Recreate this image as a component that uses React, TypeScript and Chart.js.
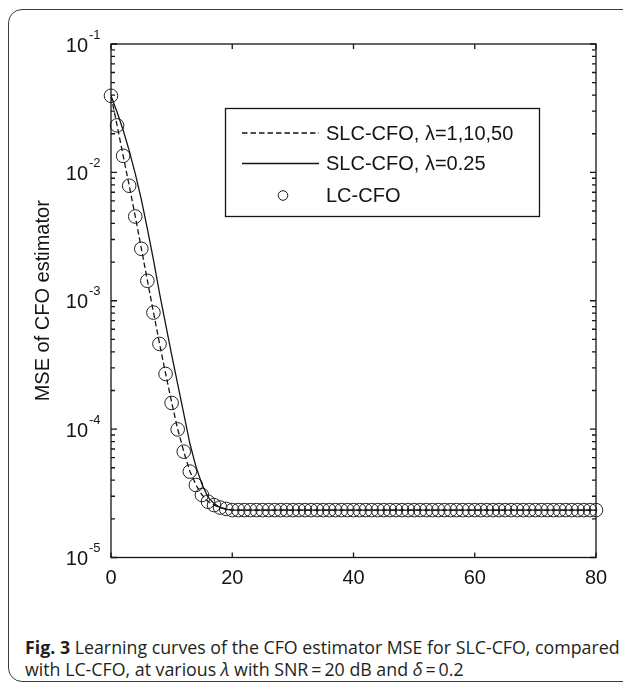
import React, { useEffect, useRef } from 'react';
import { Chart, registerables } from 'chart.js';

Chart.register(...registerables);

// ---------- data ----------
const iterations = [
  0, 1, 2, 3, 4, 5, 6, 7, 8, 9, 10, 11, 12, 13, 14, 15, 16, 17, 18, 19, 20,
  21, 22, 23, 24, 25, 26, 27, 28, 29, 30, 31, 32, 33, 34, 35, 36, 37, 38, 39, 40,
  41, 42, 43, 44, 45, 46, 47, 48, 49, 50, 51, 52, 53, 54, 55, 56, 57, 58, 59, 60,
  61, 62, 63, 64, 65, 66, 67, 68, 69, 70, 71, 72, 73, 74, 75, 76, 77, 78, 79, 80,
];

// LC-CFO (circles)
const lcCfo = [
  0.0395, 0.02323, 0.01346, 0.00787, 0.00453, 0.00254, 0.00143, 0.000809, 0.000461, 0.000269,
  0.00016, 9.95e-5, 6.68e-5, 4.67e-5, 3.67e-5, 3.07e-5, 2.72e-5, 2.56e-5, 2.45e-5, 2.39e-5,
  2.34e-5, 2.34e-5, 2.34e-5, 2.34e-5, 2.34e-5, 2.34e-5, 2.34e-5, 2.34e-5, 2.34e-5, 2.34e-5,
  2.34e-5, 2.34e-5, 2.34e-5, 2.34e-5, 2.34e-5, 2.34e-5, 2.34e-5, 2.34e-5, 2.34e-5, 2.34e-5,
  2.34e-5, 2.34e-5, 2.34e-5, 2.34e-5, 2.34e-5, 2.34e-5, 2.34e-5, 2.34e-5, 2.34e-5, 2.34e-5,
  2.34e-5, 2.34e-5, 2.34e-5, 2.34e-5, 2.34e-5, 2.34e-5, 2.34e-5, 2.34e-5, 2.34e-5, 2.34e-5,
  2.34e-5, 2.34e-5, 2.34e-5, 2.34e-5, 2.34e-5, 2.34e-5, 2.34e-5, 2.34e-5, 2.34e-5, 2.34e-5,
  2.34e-5, 2.34e-5, 2.34e-5, 2.34e-5, 2.34e-5, 2.34e-5, 2.34e-5, 2.34e-5, 2.34e-5, 2.34e-5,
  2.34e-5,
];

// SLC-CFO, lambda = 1, 10, 50 (dashed)
const slcLambdaHigh = [
  0.0395, 0.02330, 0.01350, 0.00790, 0.00455, 0.00256, 0.00144, 0.000815, 0.000465, 0.000272,
  0.000162, 0.0001, 6.7e-5, 4.7e-5, 3.68e-5, 3.08e-5, 2.73e-5, 2.56e-5, 2.45e-5, 2.39e-5,
  2.34e-5, 2.34e-5, 2.34e-5, 2.34e-5, 2.34e-5, 2.34e-5, 2.34e-5, 2.34e-5, 2.34e-5, 2.34e-5,
  2.34e-5, 2.34e-5, 2.34e-5, 2.34e-5, 2.34e-5, 2.34e-5, 2.34e-5, 2.34e-5, 2.34e-5, 2.34e-5,
  2.34e-5, 2.34e-5, 2.34e-5, 2.34e-5, 2.34e-5, 2.34e-5, 2.34e-5, 2.34e-5, 2.34e-5, 2.34e-5,
  2.34e-5, 2.34e-5, 2.34e-5, 2.34e-5, 2.34e-5, 2.34e-5, 2.34e-5, 2.34e-5, 2.34e-5, 2.34e-5,
  2.34e-5, 2.34e-5, 2.34e-5, 2.34e-5, 2.34e-5, 2.34e-5, 2.34e-5, 2.34e-5, 2.34e-5, 2.34e-5,
  2.34e-5, 2.34e-5, 2.34e-5, 2.34e-5, 2.34e-5, 2.34e-5, 2.34e-5, 2.34e-5, 2.34e-5, 2.34e-5,
  2.34e-5,
];

// SLC-CFO, lambda = 0.25 (solid)
const slcLambda025 = [
  0.0395, 0.02951, 0.02138, 0.01479, 0.009772, 0.006166, 0.003631, 0.002089, 0.001148, 0.000661,
  0.00038, 0.000224, 0.000132, 7.76e-5, 5.13e-5, 3.72e-5, 2.95e-5, 2.63e-5, 2.45e-5, 2.37e-5,
  2.34e-5, 2.34e-5, 2.34e-5, 2.34e-5, 2.34e-5, 2.34e-5, 2.34e-5, 2.34e-5, 2.34e-5, 2.34e-5,
  2.34e-5, 2.34e-5, 2.34e-5, 2.34e-5, 2.34e-5, 2.34e-5, 2.34e-5, 2.34e-5, 2.34e-5, 2.34e-5,
  2.34e-5, 2.34e-5, 2.34e-5, 2.34e-5, 2.34e-5, 2.34e-5, 2.34e-5, 2.34e-5, 2.34e-5, 2.34e-5,
  2.34e-5, 2.34e-5, 2.34e-5, 2.34e-5, 2.34e-5, 2.34e-5, 2.34e-5, 2.34e-5, 2.34e-5, 2.34e-5,
  2.34e-5, 2.34e-5, 2.34e-5, 2.34e-5, 2.34e-5, 2.34e-5, 2.34e-5, 2.34e-5, 2.34e-5, 2.34e-5,
  2.34e-5, 2.34e-5, 2.34e-5, 2.34e-5, 2.34e-5, 2.34e-5, 2.34e-5, 2.34e-5, 2.34e-5, 2.34e-5,
  2.34e-5,
];

const xTickValues = [0, 20, 40, 60, 80];
const yDecadeExponents = [-5, -4, -3, -2, -1];
const legendLabels = ['SLC-CFO, \u03bb=1,10,50', 'SLC-CFO, \u03bb=0.25', 'LC-CFO'];
const xAxisTitle = 'Number of iterations';
const yAxisTitle = 'MSE of CFO estimator';

const FONT = '"Liberation Sans", Arial, Helvetica, sans-serif';
const INK = '#151515';

const axesPlugin = {
  id: 'matlabAxes',
  afterDraw(chart: any) {
    const ctx = chart.ctx as CanvasRenderingContext2D;
    const { left, right, top, bottom } = chart.chartArea;
    const xs = chart.scales.x;
    const ys = chart.scales.y;
    ctx.save();
    ctx.strokeStyle = INK;
    ctx.fillStyle = INK;
    ctx.lineWidth = 1.3;
    ctx.setLineDash([]);
    // box
    ctx.strokeRect(left, top, right - left, bottom - top);
    // x ticks
    ctx.beginPath();
    xTickValues.forEach((v) => {
      const px = xs.getPixelForValue(v);
      ctx.moveTo(px, bottom);
      ctx.lineTo(px, bottom - 5);
      ctx.moveTo(px, top);
      ctx.lineTo(px, top + 5);
    });
    // y ticks
    yDecadeExponents.forEach((e) => {
      const py = ys.getPixelForValue(Math.pow(10, e));
      ctx.moveTo(left, py);
      ctx.lineTo(left + 6, py);
      ctx.moveTo(right, py);
      ctx.lineTo(right - 6, py);
      if (e < -1) {
        for (let m = 2; m <= 9; m++) {
          const pm = ys.getPixelForValue(m * Math.pow(10, e));
          ctx.moveTo(left, pm);
          ctx.lineTo(left + 4, pm);
          ctx.moveTo(right, pm);
          ctx.lineTo(right - 4, pm);
        }
      }
    });
    ctx.stroke();

    // x tick labels
    ctx.font = `20px ${FONT}`;
    ctx.textAlign = 'center';
    ctx.textBaseline = 'middle';
    xTickValues.forEach((v) => {
      ctx.fillText(String(v), xs.getPixelForValue(v), bottom + 21);
    });

    // y tick labels 10^e
    yDecadeExponents.forEach((e) => {
      const py = ys.getPixelForValue(Math.pow(10, e));
      ctx.font = `20px ${FONT}`;
      ctx.textAlign = 'right';
      ctx.textBaseline = 'middle';
      ctx.fillText('10', 88, py + 2);
      ctx.font = `13px ${FONT}`;
      ctx.textAlign = 'left';
      ctx.fillText(String(e), 89, py - 9);
    });

    // axis titles
    ctx.font = `20px ${FONT}`;
    ctx.textAlign = 'center';
    ctx.textBaseline = 'middle';
    ctx.fillText(xAxisTitle, (left + right) / 2, bottom + 53);
    ctx.save();
    ctx.translate(43, (top + bottom) / 2);
    ctx.rotate(-Math.PI / 2);
    ctx.fillText(yAxisTitle, 0, 0);
    ctx.restore();

    // legend
    const lx = 225, ly = 108, lw = 314, lh = 108;
    ctx.fillStyle = '#ffffff';
    ctx.fillRect(lx, ly, lw, lh);
    ctx.strokeStyle = INK;
    ctx.lineWidth = 1.3;
    ctx.strokeRect(lx + 0.5, ly + 0.5, lw, lh);
    const rows = [133, 163.5, 195.5];
    const ds = chart.data.datasets;
    // dashed
    ctx.beginPath();
    ctx.setLineDash(ds[0].borderDash);
    ctx.lineWidth = ds[0].borderWidth;
    ctx.moveTo(242, rows[0]);
    ctx.lineTo(319, rows[0]);
    ctx.stroke();
    // solid
    ctx.beginPath();
    ctx.setLineDash([]);
    ctx.lineWidth = ds[1].borderWidth;
    ctx.moveTo(242, rows[1]);
    ctx.lineTo(319, rows[1]);
    ctx.stroke();
    // circle
    ctx.beginPath();
    ctx.lineWidth = 1;
    ctx.arc(283, rows[2], 4.8, 0, Math.PI * 2);
    ctx.stroke();
    ctx.fillStyle = INK;
    ctx.font = `20px ${FONT}`;
    ctx.textAlign = 'left';
    ctx.textBaseline = 'middle';
    legendLabels.forEach((t, i) => ctx.fillText(t, 326, rows[i] + 1));
    ctx.restore();
  },
};

export default function App() {
  const canvasRef = useRef<HTMLCanvasElement | null>(null);

  useEffect(() => {
    const canvas = canvasRef.current;
    if (!canvas) return;
    const chart = new Chart(canvas, {
      type: 'line',
      data: {
        datasets: [
          {
            label: legendLabels[0],
            data: iterations.map((x, i) => ({ x, y: slcLambdaHigh[i] })),
            borderColor: INK,
            borderWidth: 1.3,
            borderDash: [5.5, 3],
            pointRadius: 0,
            tension: 0,
            fill: false,
          },
          {
            label: legendLabels[1],
            data: iterations.map((x, i) => ({ x, y: slcLambda025[i] })),
            borderColor: INK,
            borderWidth: 1.3,
            pointRadius: 0,
            tension: 0,
            fill: false,
          },
          {
            label: legendLabels[2],
            data: iterations.map((x, i) => ({ x, y: lcCfo[i] })),
            showLine: false,
            pointStyle: 'circle',
            pointRadius: 6.8,
            pointBorderWidth: 1,
            pointBorderColor: '#222',
            pointBackgroundColor: 'rgba(0,0,0,0)',
            clip: false,
          } as any,
        ],
      },
      options: {
        responsive: false,
        animation: false,
        devicePixelRatio: 1,
        events: [],
        layout: { padding: { left: 111, top: 44, right: 27, bottom: 42.5 } },
        plugins: { legend: { display: false }, tooltip: { enabled: false }, title: { display: false } },
        scales: {
          x: { type: 'linear', min: 0, max: 80, display: false },
          y: { type: 'logarithmic', min: 1e-5, max: 1e-1, display: false },
        },
      },
      plugins: [axesPlugin],
    });
    return () => chart.destroy();
  }, []);

  return (
    <div style={{ position: 'absolute', left: 0, top: 0, width: 623, height: 685, overflow: 'hidden', background: '#fff' }}>
      <div
        style={{
          position: 'absolute',
          left: 8,
          top: 9,
          width: 700,
          height: 673,
          border: '1.5px solid #3a3a3a',
          borderRadius: 14,
          boxSizing: 'border-box',
        }}
      />
      <canvas
        ref={canvasRef}
        width={623}
        height={600}
        style={{ position: 'absolute', left: 0, top: 0, width: 623, height: 600 }}
      />
      <div
        style={{
          position: 'absolute',
          left: 25,
          top: 636,
          whiteSpace: 'nowrap',
          fontFamily: '"Open Sans", "Noto Sans", sans-serif',
          fontSize: 17.8,
          lineHeight: '22px',
          color: '#231f20',
        }}
      >
        <b>Fig. 3</b> Learning curves of the CFO estimator MSE for SLC-CFO, compared
        <br />
        with LC-CFO, at various <i>{'\u03bb'}</i> with SNR{'\u2009=\u2009'}20 dB and <i>{'\u03b4'}</i>{'\u2009=\u2009'}0.2
      </div>
    </div>
  );
}
